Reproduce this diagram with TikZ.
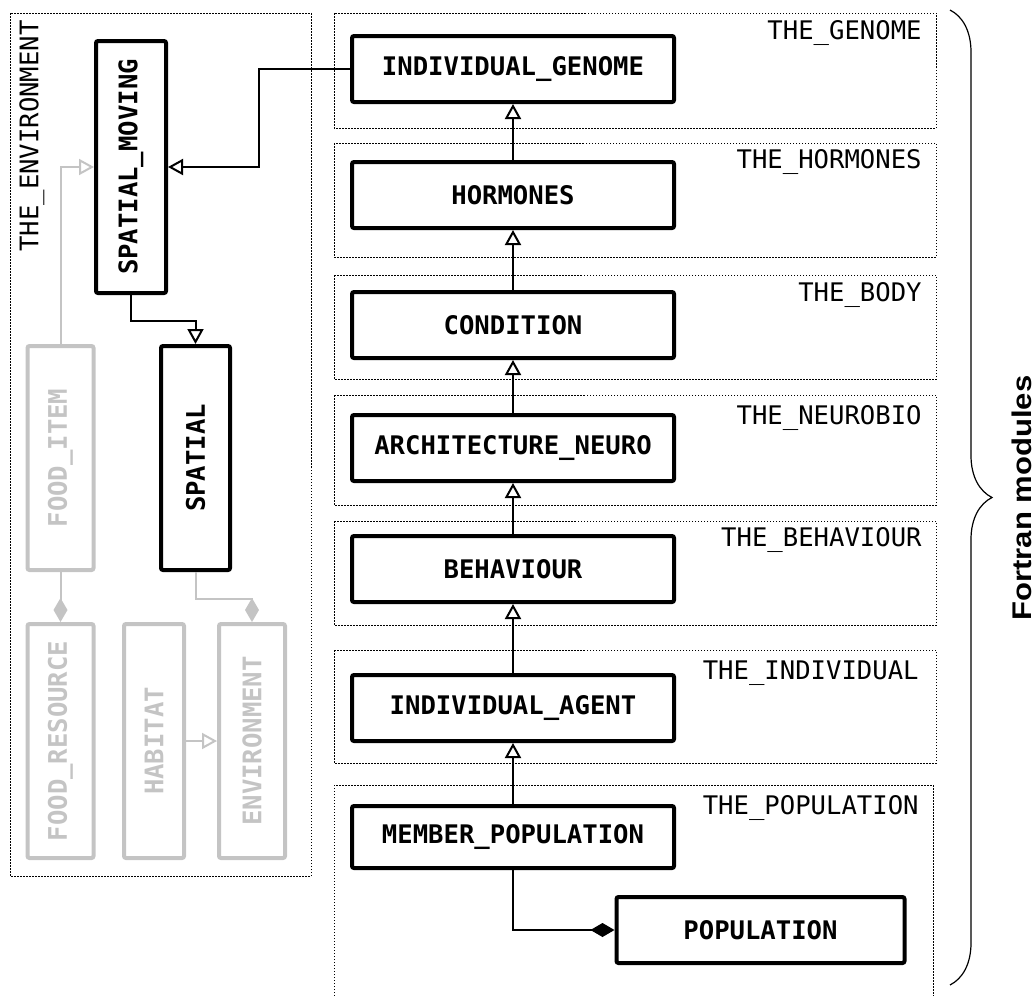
\documentclass[tikz,border=0pt]{standalone}
\usepackage{fontspec}
\setmonofont{DejaVu Sans Mono}
\newfontfamily\sidefont{Liberation Sans}
\usetikzlibrary{arrows.meta,decorations.pathreplacing}
\definecolor{faded}{RGB}{196,196,196}
\begin{document}
\begin{tikzpicture}[x=0.5pt,y=-0.5pt,
  pkg/.style={draw, line width=0.5pt, dash pattern=on 0.75pt off 0.75pt},
  pkglabel/.style={inner sep=0pt, font=\fontsize{12.8}{14}\ttfamily},
  modbox/.style={draw, line width=2pt, rounded corners=1pt, fill=white, inner sep=0pt,
    font=\fontsize{12.8}{14}\ttfamily\bfseries, minimum width=161pt, minimum height=33pt},
  vbox/.style={draw, line width=2pt, rounded corners=1pt, fill=white, inner sep=0pt,
    font=\fontsize{12.8}{14}\ttfamily\bfseries},
  ghost/.style={draw=faded, text=faded},
  conn/.style={line width=1pt},
  inherit/.style={conn, -{Triangle[open, length=7.5pt, width=8pt]}},
  compose/.style={conn, -{Diamond[length=12pt, width=7pt]}},
]
\useasboundingbox (0,0) rectangle (1035,996);

% ---- package frames ----
\draw[pkg] (10,13) rectangle (311,876);
\draw[pkg] (334,13) rectangle (936,128);
\draw[pkg] (334,143) rectangle (936,257);
\draw[pkg] (334,275) rectangle (936,379);
\draw[pkg] (334,395) rectangle (936,505);
\draw[pkg] (334,521) rectangle (936,625);
\draw[pkg] (334,650) rectangle (936,763);
\draw[pkg] (334,996) -- (334,785) -- (933,785) -- (933,996);

% ---- package names ----
\node[pkglabel, rotate=90] (lenv) at (32,136) {THE\_ENVIRONMENT};
\node[pkglabel, anchor=east] (lgen) at (922,33) {THE\_GENOME};
\node[pkglabel, anchor=east] (lhor) at (922,162) {THE\_HORMONES};
\node[pkglabel, anchor=east] (lbod) at (922,295) {THE\_BODY};
\node[pkglabel, anchor=east] (lneu) at (922,418) {THE\_NEUROBIO};
\node[pkglabel, anchor=east] (lbeh) at (922,540) {THE\_BEHAVIOUR};
\node[pkglabel, anchor=east] (lind) at (919,673) {THE\_INDIVIDUAL};
\node[pkglabel, anchor=east] (lpop) at (919,808) {THE\_POPULATION};

% ---- module chain ----
\node[modbox] (genome) at (513,69) {INDIVIDUAL\_GENOME};
\node[modbox] (hormones) at (513,195) {HORMONES};
\node[modbox] (condition) at (513,325) {CONDITION};
\node[modbox] (neuro) at (513,448) {ARCHITECTURE\_NEURO};
\node[modbox] (behaviour) at (513,569) {BEHAVIOUR};
\node[modbox] (agent) at (513,708) {INDIVIDUAL\_AGENT};
\node[modbox, minimum height=31pt] (member) at (513,837) {MEMBER\_POPULATION};
\node[modbox, minimum width=144pt] (population) at (760.5,930) {POPULATION};

% ---- environment modules ----
\node[vbox, minimum width=35pt, minimum height=126pt] (smov) at (131,167) {\rotatebox{90}{SPATIAL\_MOVING}};
\node[vbox, minimum width=34.5pt, minimum height=112pt] (spatial) at (195.5,458) {\rotatebox{90}{SPATIAL}};
\node[vbox, ghost, minimum width=33pt, minimum height=112pt] (fooditem) at (60.5,458) {\rotatebox{90}{FOOD\_ITEM}};
\node[vbox, ghost, minimum width=33pt, minimum height=117pt] (foodres) at (60.5,741) {\rotatebox{90}{FOOD\_RESOURCE}};
\node[vbox, ghost, minimum width=30pt, minimum height=117pt] (habitat) at (154,741) {\rotatebox{90}{HABITAT}};
\node[vbox, ghost, minimum width=33pt, minimum height=117pt] (environment) at (252,741) {\rotatebox{90}{ENVIRONMENT}};

% ---- inheritance along the chain ----
\draw[inherit] (hormones.north) -- (genome.south);
\draw[inherit] (condition.north) -- (hormones.south);
\draw[inherit] (neuro.north) -- (condition.south);
\draw[inherit] (behaviour.north) -- (neuro.south);
\draw[inherit] (agent.north) -- (behaviour.south);
\draw[inherit] (member.north) -- (agent.south);
\draw[compose] (member.south) |- (population.west);

% ---- links into the environment ----
\coordinate (gbend) at (259,69);
\draw[inherit] (genome.west) -- (gbend) |- (smov.east);
\draw[inherit] (smov.south) -- ++(0,26) -| (spatial.north);
\draw[inherit, draw=faded] (fooditem.north) |- (smov.west);
\draw[compose, draw=faded] (fooditem.south) -- (foodres.north);
\draw[compose, draw=faded] (spatial.south) -- ++(0,27) -| (environment.north);
\draw[inherit, draw=faded] (habitat.east) -- (environment.west);

% ---- grouping brace ----
\coordinate (bracetop) at (950,10);
\coordinate (bracebot) at (950,985);
\draw[line width=0.6pt, decorate, decoration={brace, amplitude=21pt}] (bracetop) -- (bracebot);
\node[rotate=90, inner sep=0pt, font=\sidefont\bfseries\fontsize{13.5}{16}\selectfont] (side) at (1022,498) {\scalebox{1.15}[1]{Fortran modules}};
\end{tikzpicture}
\end{document}
